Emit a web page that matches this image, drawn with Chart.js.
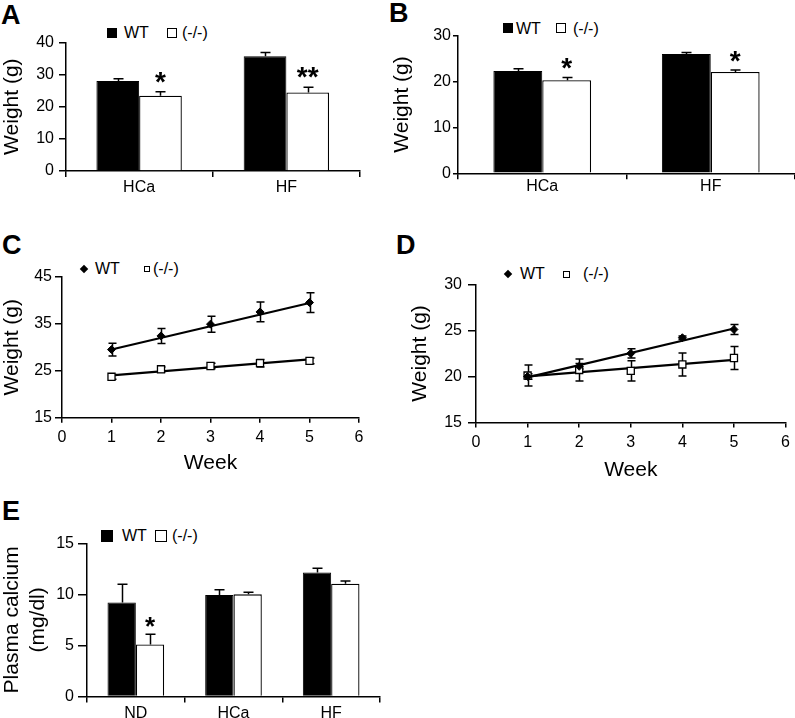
<!DOCTYPE html>
<html><head><meta charset="utf-8">
<script src="https://cdn.jsdelivr.net/npm/chart.js@4.4.0/dist/chart.umd.min.js"></script>
<style>
html,body{margin:0;padding:0;background:#fff;}
body{width:795px;height:718px;position:relative;overflow:hidden;font-family:"Liberation Sans",Arial,sans-serif;color:#000;}
canvas{position:absolute;}
.lbl{position:absolute;font-weight:bold;font-size:27px;line-height:27px;}
.leg{position:absolute;font-size:16px;line-height:16px;white-space:nowrap;}
.sq{position:absolute;box-sizing:border-box;}
.blk{background:#000;}
.wht{background:#fff;border:1px solid #000;}
.dia{position:absolute;width:6px;height:6px;background:#000;transform:rotate(45deg);}
</style>
</head><body>
<div class="lbl" style="left:1px;top:2px">A</div>
<div class="lbl" style="left:389px;top:0px">B</div>
<div class="lbl" style="left:2px;top:232px">C</div>
<div class="lbl" style="left:396px;top:232px">D</div>
<div class="lbl" style="left:2px;top:498px">E</div>

<div class="sq blk" style="left:107px;top:28px;width:10px;height:10px"></div>
<div class="leg" style="left:124px;top:25px">WT</div>
<div class="sq wht" style="left:167px;top:28px;width:10px;height:10px"></div>
<div class="leg" style="left:182px;top:25px">(-/-)</div>

<div class="sq blk" style="left:503px;top:23px;width:10px;height:10px"></div>
<div class="leg" style="left:516px;top:21px">WT</div>
<div class="sq wht" style="left:556px;top:23px;width:10px;height:10px"></div>
<div class="leg" style="left:573px;top:21px">(-/-)</div>

<div class="dia" style="left:81px;top:266px"></div>
<div class="leg" style="left:95px;top:261px">WT</div>
<div class="sq wht" style="left:144px;top:266px;width:6px;height:6px"></div>
<div class="leg" style="left:153px;top:261px">(-/-)</div>

<div class="dia" style="left:505px;top:271px"></div>
<div class="leg" style="left:520px;top:266px">WT</div>
<div class="sq wht" style="left:563px;top:271px;width:7px;height:7px"></div>
<div class="leg" style="left:583px;top:266px">(-/-)</div>

<div class="sq blk" style="left:101px;top:530px;width:12px;height:12px"></div>
<div class="leg" style="left:122px;top:528px">WT</div>
<div class="sq wht" style="left:155px;top:530px;width:12px;height:12px"></div>
<div class="leg" style="left:172px;top:528px">(-/-)</div>

<script>
// ---------- DATA ----------
// Panel A
const catsA = ['HCa', 'HF'];
const wtA = [28.0, 35.7];
const wtErrA = [0.7, 1.1];
const koA = [23.4, 24.4];
const koErrA = [1.2, 1.6];
const sigA = ['*', '**'];
const ticksA = [0, 10, 20, 30, 40];
// Panel B
const catsB = ['HCa', 'HF'];
const wtB = [22.3, 26.0];
const wtErrB = [0.5, 0.35];
const koB = [20.3, 22.1];
const koErrB = [0.6, 0.4];
const sigB = ['*', '*'];
const ticksB = [0, 10, 20, 30];
// Panel C
const weeks = [1, 2, 3, 4, 5];
const wtC = [29.5, 32.4, 34.9, 37.5, 39.5];
const wtErrC = [1.35, 1.6, 1.7, 2.1, 2.1];
const koC = [23.7, 25.3, 26.0, 26.6, 27.1];
const koErrC = [0.5, 0.5, 0.6, 0.8, 0.6];
const trendWeeks = [1, 5];
const wtTrendC = [29.5, 39.4];
const koTrendC = [24.0, 27.4];
const ticksC = [15, 25, 35, 45];
// Panel D
const wtD = [20.0, 21.1, 22.5, 24.2, 25.1];
const wtErrD = [0.3, 0.3, 0.5, 0.2, 0.55];
const koD = [20.1, 20.7, 20.6, 21.3, 22.0];
const koErrD = [1.15, 1.2, 1.1, 1.25, 1.25];
const wtTrendD = [19.9, 25.2];
const koTrendD = [20.0, 21.8];
const ticksD = [15, 20, 25, 30];
const weekTicks = [0, 1, 2, 3, 4, 5, 6];
// Panel E
const catsE = ['ND', 'HCa', 'HF'];
const wtE = [9.2, 9.95, 12.15];
const wtErrE = [1.8, 0.5, 0.4];
const koE = [5.1, 10.0, 11.05];
const koErrE = [1.0, 0.2, 0.25];
const sigE = ['*', '', ''];
const ticksE = [0, 5, 10, 15];

// ---------- HELPERS ----------
const FONT = '"Liberation Sans", Arial, sans-serif';
Chart.defaults.font.family = FONT;
Chart.defaults.color = '#000';

function errPlugin(cfg) {
  function draw(chart) {
    const ctx = chart.ctx, ys = chart.scales.y;
    ctx.save();
    ctx.strokeStyle = '#000';
    ctx.lineWidth = 1.5;
    cfg.sets.forEach(s => {
      const meta = chart.getDatasetMeta(s.index);
      const vals = chart.data.datasets[s.index].data;
      meta.data.forEach((el, i) => {
        const v = typeof vals[i] === 'object' ? vals[i].y : vals[i];
        const e = s.err[i];
        const x = Math.round(el.x) + 0.5;
        const yT = ys.getPixelForValue(v + e);
        const yB = ys.getPixelForValue(s.both ? v - e : v);
        const c = cfg.cap;
        ctx.beginPath();
        ctx.moveTo(x, yT); ctx.lineTo(x, yB);
        ctx.moveTo(x - c, yT); ctx.lineTo(x + c, yT);
        if (s.both) { ctx.moveTo(x - c, yB); ctx.lineTo(x + c, yB); }
        ctx.stroke();
      });
    });
    if (cfg.stars) {
      const st = cfg.stars;
      const meta = chart.getDatasetMeta(st.index);
      const vals = chart.data.datasets[st.index].data;
      ctx.fillStyle = '#000';
      ctx.font = 'bold ' + st.size + 'px ' + FONT;
      ctx.textAlign = 'center';
      ctx.textBaseline = 'alphabetic';
      meta.data.forEach((el, i) => {
        if (!st.labels[i]) return;
        const y = ys.getPixelForValue(vals[i] + st.err[i]) + st.dy;
        ctx.fillText(st.labels[i], el.x, y);
      });
    }
    ctx.restore();
  }
  return {
    id: 'err' + Math.random().toString(36).slice(2),
    beforeDatasetsDraw(chart) { if (!cfg.after) draw(chart); },
    afterDatasetsDraw(chart) { if (cfg.after) draw(chart); }
  };
}

function panel(box, plot, config) {
  const c = document.createElement('canvas');
  c.width = box.w; c.height = box.h;
  c.style.left = box.x + 'px'; c.style.top = box.y + 'px';
  c.style.width = box.w + 'px'; c.style.height = box.h + 'px';
  document.body.appendChild(c);
  config.options.responsive = false;
  config.options.animation = false;
  config.options.devicePixelRatio = 1;
  config.options.layout = { padding: { top: plot.t - box.y, right: box.x + box.w - plot.r, left: 0, bottom: 0 } };
  config.options.scales.x.afterFit = s => { s.height = box.y + box.h - plot.b; };
  config.options.scales.y.afterFit = s => { s.width = plot.l - box.x; };
  config.options.plugins = Object.assign({ legend: { display: false }, tooltip: { enabled: false } }, config.options.plugins || {});
  return new Chart(c, config);
}

function yAxis(min, max, ticks, title, tl, pad, titlePad) {
  return {
    min: min, max: max,
    afterBuildTicks: s => { s.ticks = ticks.map(v => ({ value: v })); },
    ticks: { font: { size: 16 }, color: '#000', padding: pad },
    grid: { drawOnChartArea: false, drawTicks: true, tickLength: tl, color: '#000', lineWidth: 1.5 },
    border: { display: true, color: '#000', width: 1.5 },
    title: { display: true, text: title, font: { size: 21 }, color: '#000', padding: { top: titlePad, bottom: 0 } }
  };
}

function catAxis(pad) {
  return {
    type: 'category', offset: true,
    ticks: { font: { size: 16 }, color: '#000', padding: pad },
    grid: { offset: true, drawOnChartArea: false, drawTicks: true, tickLength: 6, color: '#000', lineWidth: 1.5 },
    border: { display: true, color: '#000', width: 1.5 }
  };
}

function weekAxis(pad) {
  return {
    type: 'linear', min: 0, max: 6,
    afterBuildTicks: s => { s.ticks = weekTicks.map(v => ({ value: v })); },
    ticks: { font: { size: 16 }, color: '#000', padding: pad },
    grid: { drawOnChartArea: false, drawTicks: true, tickLength: 5, color: '#000', lineWidth: 1.5 },
    border: { display: true, color: '#000', width: 1.5 },
    title: { display: true, text: 'Week', font: { size: 21 }, color: '#000', padding: { top: 0, bottom: 0 } }
  };
}

function barDatasets(wt, ko) {
  return [
    { label: 'WT', data: wt, backgroundColor: '#000', borderColor: '#000', borderWidth: 1, categoryPercentage: 0.58, barPercentage: 1.0 },
    { label: '(-/-)', data: ko, backgroundColor: '#fff', borderColor: '#000', borderWidth: 1.3, categoryPercentage: 0.58, barPercentage: 1.0 }
  ];
}

function pts(xs, ys) { return xs.map((x, i) => ({ x: x, y: ys[i] })); }

function lineDatasets(wt, ko, wtT, koT) {
  return [
    { label: 'WT', data: pts(weeks, wt), showLine: false, pointStyle: 'rectRot', pointRadius: 4, backgroundColor: '#000', borderColor: '#000', borderWidth: 1 },
    { label: '(-/-)', data: pts(weeks, ko), showLine: false, pointStyle: 'rect', pointRadius: 5, backgroundColor: '#fff', borderColor: '#000', borderWidth: 1.3 },
    { type: 'line', label: 'WT trend', data: pts(trendWeeks, wtT), showLine: true, pointRadius: 0, borderColor: '#000', borderWidth: 2.2, fill: false },
    { type: 'line', label: '(-/-) trend', data: pts(trendWeeks, koT), showLine: true, pointRadius: 0, borderColor: '#000', borderWidth: 2.2, fill: false }
  ];
}

// ---------- PANEL A ----------
panel({ x: 0, y: 0, w: 380, h: 210 }, { l: 65.5, t: 42.3, r: 360, b: 171 }, {
  type: 'bar',
  data: { labels: catsA, datasets: barDatasets(wtA, koA) },
  options: { scales: { x: catAxis(1), y: yAxis(0, 40, ticksA, 'Weight (g)', 6.5, 5, 0) } },
  plugins: [errPlugin({ after: true, cap: 5, sets: [{ index: 0, err: wtErrA }, { index: 1, err: koErrA }],
    stars: { index: 1, labels: sigA, err: koErrA, size: 28, dy: -1 } })]
});

// ---------- PANEL B ----------
panel({ x: 390, y: 0, w: 405, h: 210 }, { l: 458, t: 35.7, r: 795, b: 173.3 }, {
  type: 'bar',
  data: { labels: catsB, datasets: barDatasets(wtB, koB) },
  options: { scales: { x: catAxis(-2), y: yAxis(0, 30, ticksB, 'Weight (g)', 5, 2, 0) } },
  plugins: [errPlugin({ after: true, cap: 5, sets: [{ index: 0, err: wtErrB }, { index: 1, err: koErrB }],
    stars: { index: 1, labels: sigB, err: koErrB, size: 28, dy: 0 } })]
});

// ---------- PANEL C ----------
panel({ x: 0, y: 230, w: 380, h: 246 }, { l: 62, t: 276.7, r: 359, b: 417.7 }, {
  type: 'scatter',
  data: { datasets: lineDatasets(wtC, koC, wtTrendC, koTrendC) },
  options: { scales: { x: weekAxis(5), y: yAxis(15, 45, ticksC, 'Weight (g)', 7, 3, 0) } },
  plugins: [errPlugin({ after: false, cap: 4, sets: [{ index: 0, err: wtErrC, both: true }, { index: 1, err: koErrC, both: true }] })]
});

// ---------- PANEL D ----------
panel({ x: 390, y: 230, w: 405, h: 253 }, { l: 476, t: 284.3, r: 789, b: 422.5 }, {
  type: 'scatter',
  data: { datasets: lineDatasets(wtD, koD, wtTrendD, koTrendD) },
  options: { scales: { x: weekAxis(5), y: yAxis(15, 30, ticksD, 'Weight (g)', 8, 6, 18) } },
  plugins: [errPlugin({ after: false, cap: 4, sets: [{ index: 0, err: wtErrD, both: true }, { index: 1, err: koErrD, both: true }] })]
});

// ---------- PANEL E ----------
panel({ x: 0, y: 480, w: 400, h: 238 }, { l: 87, t: 543.3, r: 380, b: 696.5 }, {
  type: 'bar',
  data: { labels: catsE, datasets: barDatasets(wtE, koE) },
  options: { scales: { x: catAxis(1), y: yAxis(0, 15, ticksE, ['Plasma calcium', '(mg/dl)'], 9, 4, 0) } },
  plugins: [errPlugin({ after: true, cap: 5, sets: [{ index: 0, err: wtErrE }, { index: 1, err: koErrE }],
    stars: { index: 1, labels: sigE, err: koErrE, size: 26, dy: 1 } })]
});
</script>
</body></html>
